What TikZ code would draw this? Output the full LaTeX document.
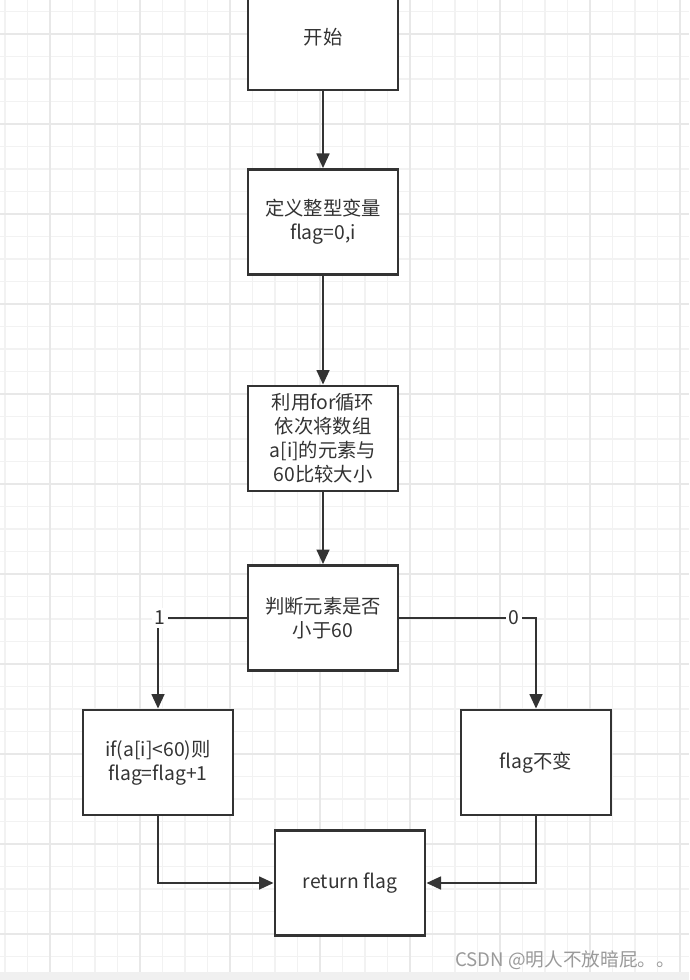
\documentclass[tikz,border=0pt]{standalone}
\usepackage{fontspec}
\setmainfont{Noto Sans CJK SC}
\usetikzlibrary{arrows.meta}
\definecolor{linegray}{HTML}{333333}
\definecolor{gridminor}{HTML}{F2F2F2}
\definecolor{gridmajor}{HTML}{E8E8E8}
\definecolor{stripgray}{HTML}{F0F0F0}
\definecolor{markgray}{HTML}{9A9A9A}

\begin{document}
\begin{tikzpicture}[
    x=0.75pt, y=-0.75pt,
    box/.style={rectangle, draw=linegray, line width=2pt, fill=white, minimum width=112.5pt, minimum height=78.75pt, inner sep=2pt, align=center, font=\fontsize{14.5}{18}\selectfont, text=linegray},
    flow/.style={draw=linegray, line width=2pt, -{Triangle[length=11pt,width=9.5pt]}},
    lbl/.style={fill=white, inner sep=2pt, font=\fontsize{14.5}{18}\selectfont, text=linegray}
]
    \useasboundingbox (0,0) rectangle (689,980);
    \fill[white] (0,0) rectangle (689,980);

    % grid
    \foreach \i in {0,...,30} {
        \draw[gridminor, line width=0.9pt] (5+22.5*\i, 0) -- ++(0, 980);
    }
    \foreach \j in {0,...,43} {
        \draw[gridminor, line width=0.9pt] (0, 11.5+22.5*\j) -- ++(689, 0);
    }
    \foreach \i in {0,...,7} {
        \draw[gridmajor, line width=0.9pt] (50+90*\i, 0) -- ++(0, 980);
    }
    \foreach \j in {0,...,10} {
        \draw[gridmajor, line width=0.9pt] (0, 34+90*\j) -- ++(689, 0);
    }
    \fill[stripgray] (0,972) rectangle (689,980);

    \node[box] (start) at (323, 37.5) {开始};
    \node[box] (define) at (323, 222) {定义整型变量\\flag=0,i};
    \node[box] (loop) at (323, 438.5) {利用for循环\\依次将数组\\a[i]的元素与\\60比较大小};
    \node[box] (judge) at (323, 618) {判断元素是否\\小于60};
    \node[box] (count) at (158, 762.5) {if(a[i]<60)则\\flag=flag+1};
    \node[box] (keep) at (536, 762.5) {flag不变};
    \node[box] (result) at (350, 883) {return flag};

    \draw[flow] (start) -- (define);
    \draw[flow] (define) -- (loop);
    \draw[flow] (loop) -- (judge);
    \draw[flow] (judge.west) -| node[lbl, pos=0.49] (yes) {1} (count.north);
    \draw[flow] (judge.east) -| node[lbl, pos=0.42] (no) {0} (keep.north);
    \draw[flow] (count.south) |- (result.west);
    \draw[flow] (keep.south) |- (result.east);

    \node[anchor=west, text=markgray, inner sep=0, font=\fontsize{14}{16}\selectfont] (mark) at (455, 960) {CSDN @明人不放暗屁。。};
\end{tikzpicture}
\end{document}
